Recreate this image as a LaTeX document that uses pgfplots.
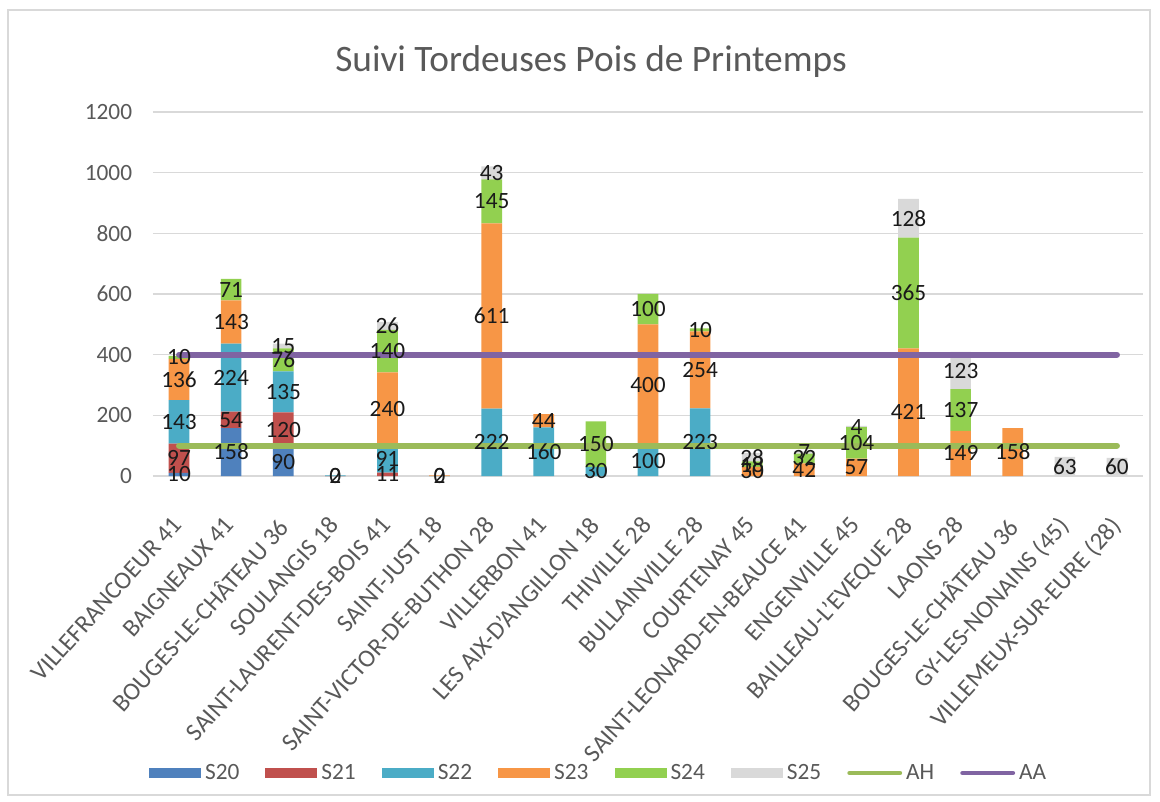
\documentclass[border=0pt]{standalone}
\usepackage{pgfplots}
\usepackage{pgfplotstable}
\pgfplotsset{compat=1.18}
\usepackage{fontspec}
\setmainfont{Carlito}
\definecolor{c20}{HTML}{4F81BD}
\definecolor{c21}{HTML}{C0504D}
\definecolor{c22}{HTML}{4BACC6}
\definecolor{c23}{HTML}{F79646}
\definecolor{c24}{HTML}{92D050}
\definecolor{c25}{HTML}{D9D9D9}
\definecolor{cah}{HTML}{9BBB59}
\definecolor{caa}{HTML}{8064A2}
\definecolor{txt}{HTML}{595959}
\definecolor{gridc}{HTML}{D9D9D9}
\definecolor{lab}{HTML}{1A1A1A}
\newcommand\tfont{\fontsize{17.5}{21}\selectfont}
\newcommand\xfont{\fontsize{18.7}{23}\selectfont}

\pgfplotstableread{
x S20 S21 S22 S23 S24 S25
0 10 97 143 136 10 0
1 158 54 224 143 71 0
2 90 120 135 0 76 15
3 0 0.001 2 0 0 0
4 0 11 91 240 140 26
5 0 0 0.001 2 0 0
6 0 0 222 611 145 43
7 0 0 160 44 0 0
8 0 0 30 0 150 0
9 0 0 100 400 100 0
10 0 0 223 254 10 0
11 0 0 0 30 18 28
12 0 0 0 42 32 7
13 0 0 0 57 104 4
14 0 0 0 421 365 128
15 0 0 0 149 137 123
16 0 0 0 158 0 0
17 0 0 0 0 0 63
18 0 0 0 0 0 60
}\bars

\pgfplotstableread{
x AH AA
0 100 400
1 100 400
2 100 400
3 100 400
4 100 400
5 100 400
6 100 400
7 100 400
8 100 400
9 100 400
10 100 400
11 100 400
12 100 400
13 100 400
14 100 400
15 100 400
16 100 400
17 100 400
18 100 400
}\lines

\pgfplotsset{
  base/.style={x=39.079pt, y=0.2275pt, xmin=-0.5, xmax=18.5, ymin=0, ymax=1200,
    /pgf/number format/assume math mode=true, /pgf/number format/1000 sep={}},
  lbl/.style={
    visualization depends on={\thisrow{#1} \as \rawy},
    nodes near coords={\ifdim\rawy pt=0pt\else\pgfmathprintnumber[fixed,precision=0,assume math mode=true]{\rawy}\fi},
    every node near coord/.append style={anchor=center, inner sep=0pt, font=\tfont, text=lab},
  },
  barleg/.style={legend image code/.code={\fill[##1] (0pt,-4.1pt) rectangle (39pt,4.1pt);}},
}

\begin{document}
\begin{tikzpicture}
\path[use as bounding box] (-114.75pt,-244.5pt) rectangle (755.25pt,357pt);
\draw[gridc, line width=1.1pt] (-108.75pt,-239.25pt) rectangle (747.75pt,349.5pt);
\node[font=\fontsize{28}{34}\selectfont, text=txt] at (328.5pt,310.5pt) {Suivi Tordeuses Pois de Printemps};
% bars, grid, ticks, legend
\begin{axis}[base,
  ybar stacked, bar width=15.5pt,
  axis line style={draw=none},
  major tick length=0pt,
  ymajorgrids, grid style={draw=gridc, line width=1.1pt},
  ytick={0,200,...,1200},
  xtick={0,...,18},
  xticklabels={VILLEFRANCOEUR 41, BAIGNEAUX 41, BOUGES-LE-CHÂTEAU 36, SOULANGIS 18, SAINT-LAURENT-DES-BOIS 41, SAINT-JUST 18, SAINT-VICTOR-DE-BUTHON 28, VILLERBON 41, LES AIX-D'ANGILLON 18, THIVILLE 28, BULLAINVILLE 28, COURTENAY 45, SAINT-LEONARD-EN-BEAUCE 41, ENGENVILLE 45, BAILLEAU-L'EVEQUE 28, LAONS 28, BOUGES-LE-CHÂTEAU 36, GY-LES-NONAINS (45), VILLEMEUX-SUR-EURE (28)},
  xticklabel style={xshift=-6pt, yshift=-29pt, rotate=48, anchor=north east, inner sep=0pt, font=\xfont, text=txt},
  yticklabel style={anchor=east, inner sep=0pt, font=\tfont, text=txt, xshift=-15.5pt},
  legend columns=8,
  legend style={at={(-0.004,-0.816)}, anchor=west, draw=none, fill=none, inner sep=0pt, outer sep=0pt, font=\tfont, text=txt,
     nodes={inner sep=0pt},
     /tikz/every odd column/.append style={column sep=3pt},
     /tikz/every even column/.append style={column sep=19.5pt}},
]
\addplot[fill=c20, draw=none, barleg] table[x=x,y=S20]{\bars};
\addplot[fill=c21, draw=none, barleg] table[x=x,y=S21]{\bars};
\addplot[fill=c22, draw=none, barleg] table[x=x,y=S22]{\bars};
\addplot[fill=c23, draw=none, barleg] table[x=x,y=S23]{\bars};
\addplot[fill=c24, draw=none, barleg] table[x=x,y=S24]{\bars};
\addplot[fill=c25, draw=none, barleg] table[x=x,y=S25]{\bars};
\addlegendimage{legend image code/.code={\draw[cah, line width=3.5pt, line cap=round] (1.8pt,0pt) -- (39.5pt,0pt);}}
\addlegendimage{legend image code/.code={\draw[caa, line width=3.5pt, line cap=round] (1.8pt,0pt) -- (39.5pt,0pt);}}
\legend{S20,S21,S22,S23,S24,S25,AH,AA}
\end{axis}
% lines
\begin{axis}[base, hide axis]
\addplot[cah, line width=4.5pt, line cap=round, mark=none] table[x=x,y=AH]{\lines};
\addplot[caa, line width=4.5pt, line cap=round, mark=none] table[x=x,y=AA]{\lines};
\end{axis}
% data labels on top
\begin{axis}[base, hide axis, ybar stacked, bar width=15.5pt]
\addplot[fill=none, draw=none, lbl=S20] table[x=x,y=S20]{\bars};
\addplot[fill=none, draw=none, lbl=S21] table[x=x,y=S21]{\bars};
\addplot[fill=none, draw=none, lbl=S22] table[x=x,y=S22]{\bars};
\addplot[fill=none, draw=none, lbl=S23] table[x=x,y=S23]{\bars};
\addplot[fill=none, draw=none, lbl=S24] table[x=x,y=S24]{\bars};
\addplot[fill=none, draw=none, lbl=S25] table[x=x,y=S25]{\bars};
\end{axis}
\end{tikzpicture}
\end{document}
